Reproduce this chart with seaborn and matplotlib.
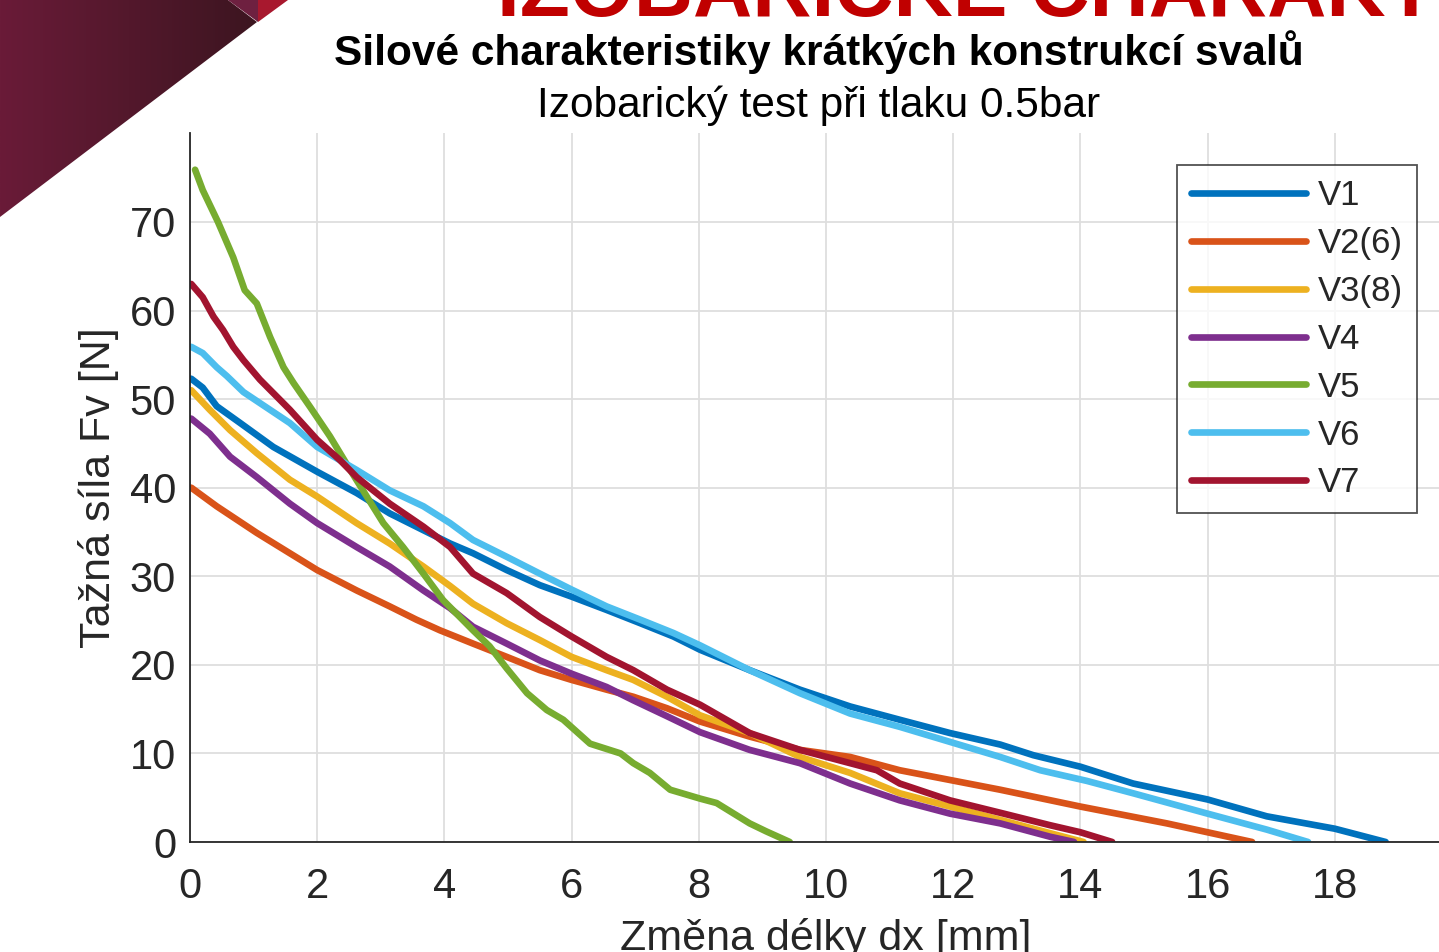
import matplotlib
matplotlib.use('Agg')
import matplotlib.pyplot as plt
import numpy as np
import pandas as pd
import seaborn as sns
from matplotlib.patches import Polygon

# data (dx in mm, F in N)
v1_x = [0.02, 0.2, 0.42, 0.79, 1.31, 2.0, 2.62, 3.14, 3.67, 4.09, 4.45, 4.98, 5.5, 6.0, 6.55, 7.08, 7.6, 8.02,
        8.8, 9.59, 10.38, 11.16, 11.95, 12.74, 13.26, 14.0, 14.83, 16.0, 16.93, 18.0, 18.8]
v1_y = [52.3, 51.3, 49.2, 47.3, 44.6, 41.8, 39.4, 37.1, 35.2, 33.7, 32.6, 30.7, 29.0, 27.7, 26.2, 24.7, 23.2, 21.7,
        19.4, 17.2, 15.3, 13.8, 12.3, 11.0, 9.8, 8.5, 6.6, 4.8, 2.9, 1.5, 0.0]

v2_x = [0.02, 0.42, 1.05, 1.57, 2.0, 2.62, 3.14, 3.56, 3.93, 4.45, 4.98, 5.5, 6.0, 6.55, 6.97, 7.5, 8.02,
        8.8, 9.59, 10.38, 11.16, 11.95, 12.74, 14.0, 15.36, 16.7]
v2_y = [40.0, 37.9, 34.9, 32.6, 30.7, 28.4, 26.6, 25.1, 23.9, 22.4, 20.9, 19.4, 18.3, 17.2, 16.4, 15.1, 13.6,
        11.9, 10.4, 9.6, 8.1, 7.0, 5.9, 4.0, 2.1, 0.0]

v3_x = [0.02, 0.31, 0.63, 1.05, 1.57, 2.0, 2.62, 3.14, 3.67, 4.09, 4.45, 4.98, 5.5, 6.0, 6.55, 6.97, 7.5, 8.02,
        8.8, 9.59, 10.38, 11.16, 11.95, 12.74, 13.52, 14.05]
v3_y = [51.0, 48.8, 46.5, 43.9, 40.9, 39.0, 36.0, 33.7, 31.1, 28.9, 26.9, 24.7, 22.8, 20.9, 19.4, 18.3, 16.4, 14.3,
        12.3, 9.6, 7.8, 5.5, 4.0, 2.5, 1.0, 0.0]

v4_x = [0.02, 0.31, 0.63, 1.05, 1.57, 2.0, 2.62, 3.14, 3.67, 4.09, 4.45, 4.98, 5.5, 6.0, 6.55, 6.97, 7.5, 8.02,
        8.8, 9.59, 10.38, 11.16, 11.95, 12.74, 13.52, 13.9]
v4_y = [47.8, 46.1, 43.5, 41.2, 38.2, 36.0, 33.3, 31.1, 28.4, 26.4, 24.3, 22.4, 20.5, 19.0, 17.5, 16.0, 14.2, 12.4,
        10.4, 8.9, 6.6, 4.7, 3.2, 2.1, 0.6, 0.0]

v5_x = [0.08, 0.2, 0.44, 0.68, 0.86, 1.05, 1.26, 1.47, 1.63, 1.89, 2.2, 2.52, 2.78, 3.04, 3.35, 3.67, 3.98,
        4.45, 4.71, 4.98, 5.3, 5.61, 5.87, 6.29, 6.77, 6.97, 7.23, 7.55, 8.02, 8.28, 8.8, 9.06, 9.43]
v5_y = [75.9, 73.6, 70.0, 66.0, 62.3, 60.8, 57.0, 53.6, 51.8, 49.1, 45.8, 42.0, 39.0, 36.0, 33.3, 30.3, 27.3,
        23.9, 22.1, 19.6, 16.8, 14.9, 13.8, 11.1, 10.0, 8.9, 7.8, 5.9, 4.9, 4.4, 2.1, 1.2, 0.0]

v6_x = [0.02, 0.2, 0.42, 0.58, 0.84, 1.57, 2.0, 2.62, 3.14, 3.67, 4.09, 4.45, 4.98, 5.5, 6.0, 6.55, 7.08, 7.6,
        8.02, 8.8, 9.59, 10.38, 11.16, 11.95, 12.74, 13.37, 14.1, 14.83, 16.0, 16.93, 17.58]
v6_y = [55.9, 55.2, 53.6, 52.6, 50.8, 47.3, 44.6, 42.0, 39.7, 37.9, 36.0, 34.1, 32.2, 30.3, 28.5, 26.6, 25.1, 23.6,
        22.2, 19.4, 16.8, 14.5, 13.0, 11.3, 9.6, 8.1, 6.9, 5.5, 3.2, 1.4, 0.0]

v7_x = [0.02, 0.2, 0.37, 0.52, 0.68, 0.84, 1.1, 1.57, 2.0, 2.36, 2.62, 3.14, 3.67, 4.09, 4.45, 4.98, 5.5, 6.0,
        6.55, 6.97, 7.5, 8.02, 8.8, 9.59, 10.38, 10.8, 11.16, 11.95, 12.74, 13.52, 14.0, 14.5]
v7_y = [63.0, 61.5, 59.3, 57.8, 55.9, 54.4, 52.2, 48.8, 45.4, 43.1, 41.2, 38.2, 35.6, 33.3, 30.3, 28.1, 25.4, 23.2,
        20.9, 19.4, 17.2, 15.5, 12.3, 10.4, 8.9, 8.1, 6.6, 4.7, 3.3, 1.9, 1.1, 0.0]

labels = ['V1', 'V2(6)', 'V3(8)', 'V4', 'V5', 'V6', 'V7']
colors = ['#0072BD', '#D95319', '#EDB120', '#7E2F8E', '#77AC30', '#4DBEEE', '#A2142F']
series = [(v1_x, v1_y), (v2_x, v2_y), (v3_x, v3_y), (v4_x, v4_y),
          (v5_x, v5_y), (v6_x, v6_y), (v7_x, v7_y)]

df = pd.concat([pd.DataFrame({'dx': sx, 'F': sy, 'vzorek': name})
                for name, (sx, sy) in zip(labels, series)], ignore_index=True)

sns.set_theme(style='white')
plt.rcParams['font.family'] = ['Liberation Sans', 'DejaVu Sans']

W, H = 1439, 952
fig = plt.figure(figsize=(W / 100, H / 100), dpi=100)

# slide decoration in the top-left corner
bg = fig.add_axes([0, 0, 1, 1], zorder=-1)
bg.set_xlim(0, W)
bg.set_ylim(H, 0)
bg.axis('off')
grad = np.linspace(0, 1, 256).reshape(1, -1)
cmap = matplotlib.colors.LinearSegmentedColormap.from_list('m', ['#6a1b38', '#3c1520'])
img = bg.imshow(grad, cmap=cmap, extent=[0, 258, 218, 0], aspect='auto')
tri = Polygon([(0, 0), (228, 0), (257, 22), (0, 217)], closed=True, transform=bg.transData)
img.set_clip_path(tri)
bg.add_patch(Polygon([(228, 0), (258, 0), (258, 22)], closed=True, color='#6e2040', lw=0))
bg.add_patch(Polygon([(258, 0), (288, 0), (258, 22)], closed=True, color='#a8182e', lw=0))
# slide heading, mostly cut off by the top edge
fig.text(497 / W, 1 - 16 / H, 'IZOBARICKÉ CHARAKTERISTIKY', color='#c00000',
         fontsize=59, fontweight='bold', ha='left', va='baseline')

ax = fig.add_axes([190 / W, 110 / H, 1272 / W, 708.6 / H])
sns.lineplot(data=df, x='dx', y='F', hue='vzorek', palette=colors, sort=False,
             estimator=None, linewidth=4.8, ax=ax)

ax.set_xlim(0, 20)
ax.set_ylim(0, 80)
ax.set_xticks(np.arange(0, 20, 2))
ax.set_yticks(np.arange(0, 80, 10))
ax.grid(True, color='#dedede', linewidth=1.3)
ax.set_axisbelow(True)
for s in ['top', 'right']:
    ax.spines[s].set_visible(False)
for s in ['left', 'bottom']:
    ax.spines[s].set_color('#262626')
    ax.spines[s].set_linewidth(1.3)
ax.tick_params(direction='in', length=9, width=1.3, color='#262626',
               labelsize=30, labelcolor='#262626')
ax.tick_params(axis='x', pad=18)
ax.tick_params(axis='y', pad=10)
ax.set_xlabel('Změna délky dx [mm]', fontsize=31, color='#262626', labelpad=8)
ax.set_ylabel('Tažná síla Fv [N]', fontsize=31, color='#262626', labelpad=8)

fig.text(819 / W, 1 - 52 / H, 'Silové charakteristiky krátkých konstrukcí svalů',
         fontsize=30.5, fontweight='bold', ha='center', va='center', color='black')
fig.text(819 / W, 1 - 106 / H, 'Izobarický test při tlaku 0.5bar',
         fontsize=30.5, ha='center', va='center', color='black')

handles, labs = ax.get_legend_handles_labels()
ax.get_legend().remove()
leg = ax.legend(handles, labs, loc='upper right', bbox_to_anchor=(1417 / W, 1 - 165 / H),
                bbox_transform=fig.transFigure, fontsize=25, handlelength=3.3,
                labelspacing=0.43, handletextpad=0.35, borderpad=0.4, borderaxespad=0,
                frameon=True, fancybox=False, edgecolor='#262626')
leg.get_frame().set_linewidth(1.3)
for h in leg.get_lines():
    h.set_linewidth(4.8)

fig.savefig('out.png', dpi=100)
